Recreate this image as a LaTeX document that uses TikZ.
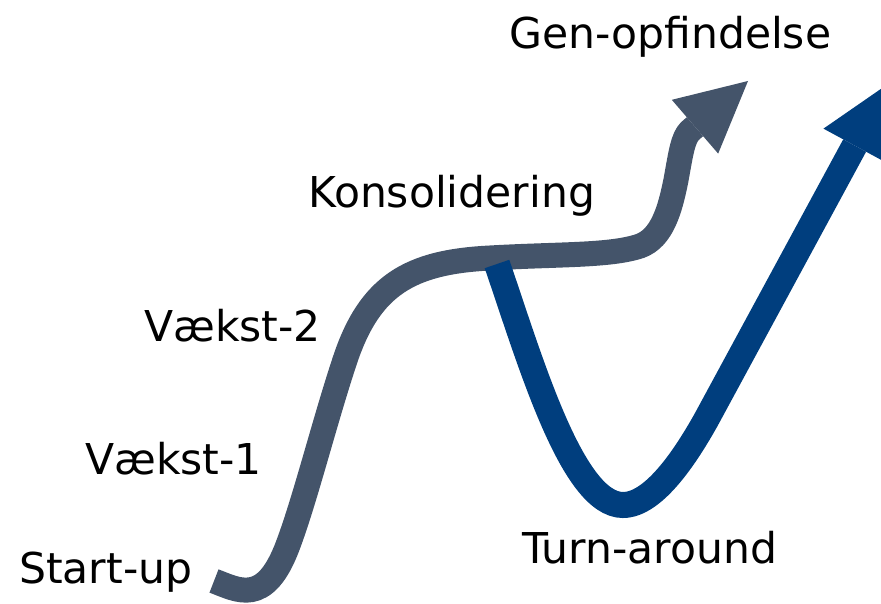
\documentclass[tikz,border=0pt]{standalone}
\usepackage{fontspec}
\setmainfont{DejaVu Sans}
\usetikzlibrary{arrows.meta}
\definecolor{slate}{RGB}{68,84,106}
\definecolor{navy}{RGB}{0,62,126}
\tikzset{
    x=1pt, y=-1pt, % one unit is one pixel, y points down
    phase/.style={anchor=base west, inner sep=0pt, font=\fontsize{42.5}{50}\selectfont}, % the phase labels
    bigtip/.style={-{Triangle[length=70pt, width=71pt, line width=0pt]}}, % flat triangular head
    growth/.style={bigtip, line width=25pt, draw=slate}, % the S-curve
    turn/.style={bigtip, line width=26pt, draw=navy}, % the turn-around curve
    }

\begin{document}
\begin{tikzpicture}
    \useasboundingbox (0,0) rectangle (881,604);
    \clip (0,0) rectangle (881,604);

    \node[phase] at (509,49) (GENOPF) {Gen-opfindelse};
    \node[phase] at (308,208) (KONSOL) {Konsolidering};
    \node[phase] at (144,341) (VAEKST2) {Vækst-2};
    \node[phase] at (85,474) (VAEKST1) {Vækst-1};
    \node[phase] at (19,583) (STARTUP) {Start-up};
    \node[phase] at (522,563) (TURN) {Turn-around};

    % growth curve
    \draw[growth] (214,581) .. controls (238,590) and (265,607) .. (288,545)
        .. controls (305,500) and (325,420) .. (345,360)
        .. controls (370,285) and (410,262) .. (490,258)
        .. controls (560,254) and (610,256) .. (640,246)
        .. controls (662,238) and (670,210) .. (676,180)
        .. controls (681,152) and (683,138) .. (690,131) -- (748,81);

    % turn-around curve
    \draw[turn] (497,264) .. controls (530,360) and (572,505) .. (623,505)
        .. controls (655,505) and (688,452) .. (706,420) -- (888,84);

\end{tikzpicture}
\end{document}
